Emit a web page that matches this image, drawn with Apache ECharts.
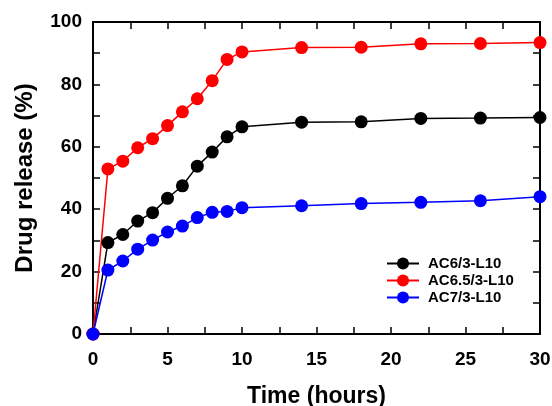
<!DOCTYPE html>
<html>
<head>
<meta charset="utf-8">
<script src="https://cdn.jsdelivr.net/npm/echarts@6/dist/echarts.min.js"></script>
<style>
html,body{margin:0;padding:0;background:#fff;}
#chart{width:552px;height:406px;}
</style>
</head>
<body>
<div id="chart"></div>
<script>
const time = [0, 1, 2, 3, 4, 5, 6, 7, 8, 9, 10, 14, 18, 22, 26, 30];
const ac6 = [0, 29.3, 31.9, 36.2, 38.9, 43.5, 47.5, 53.8, 58.3, 63.2, 66.4, 67.9, 68.0, 69.1, 69.2, 69.4];
const ac65 = [0, 52.9, 55.4, 59.7, 62.6, 66.8, 71.2, 75.4, 81.2, 88.0, 90.4, 91.8, 91.9, 93.0, 93.1, 93.4];
const ac7 = [0, 20.5, 23.4, 27.2, 30.1, 32.7, 34.6, 37.3, 39.0, 39.3, 40.5, 41.1, 41.8, 42.2, 42.7, 44.0];
const seriesNames = ['AC6/3-L10', 'AC6.5/3-L10', 'AC7/3-L10'];
const seriesColors = ['#000000', '#ff0000', '#0000ff'];
const xTicks = [0, 5, 10, 15, 20, 25, 30];
const yTicks = [0, 20, 40, 60, 80, 100];

const FONT = '"Liberation Sans", Arial, sans-serif';
const pairs = arr => time.map((t, i) => [t, arr[i]]);
const datasets = [ac6, ac65, ac7];

const axisLine = () => ({show: true, onZero: false, lineStyle: {color: '#000', width: 2}});
const tick = () => ({show: true, inside: true, length: 7, lineStyle: {color: '#000', width: 1.5}});
const minor = () => ({show: true, splitNumber: 2, length: 7, lineStyle: {color: '#000', width: 1.5}});
const lbl = () => ({fontFamily: FONT, fontWeight: 'bold', fontSize: 19, color: '#000'});

const chart = echarts.init(document.getElementById('chart'));
chart.setOption({
  animation: false,
  backgroundColor: '#fff',
  grid: {left: 93, right: 12, top: 22, bottom: 72, containLabel: false, outerBoundsMode: 'none'},
  legend: {
    orient: 'vertical', left: 386, top: 256, padding: 0,
    itemWidth: 32, itemHeight: 15, itemGap: 2,
    data: seriesNames,
    textStyle: {fontFamily: FONT, fontWeight: 'bold', fontSize: 15, color: '#000', lineHeight: 15, padding: [0, 0, 0, 4]}
  },
  xAxis: [{
    type: 'value', min: xTicks[0], max: xTicks[xTicks.length - 1], interval: xTicks[1] - xTicks[0],
    axisLine: axisLine(), axisTick: tick(), minorTick: minor(), splitLine: {show: false},
    axisLabel: Object.assign({margin: 16}, lbl()),
    name: 'Time (hours)', nameLocation: 'middle', nameGap: 51,
    nameTextStyle: {fontFamily: FONT, fontWeight: 'bold', fontSize: 23, color: '#000'}
  }, {
    type: 'value', position: 'top', min: xTicks[0], max: xTicks[xTicks.length - 1], interval: xTicks[1] - xTicks[0],
    axisLine: axisLine(), axisTick: tick(), minorTick: minor(), splitLine: {show: false}, axisLabel: {show: false}
  }],
  yAxis: [{
    type: 'value', min: yTicks[0], max: yTicks[yTicks.length - 1], interval: yTicks[1] - yTicks[0],
    axisLine: axisLine(), axisTick: tick(), minorTick: minor(), splitLine: {show: false},
    axisLabel: Object.assign({margin: 11}, lbl()),
    name: 'Drug release (%)', nameLocation: 'middle', nameGap: 56,
    nameTextStyle: {fontFamily: FONT, fontWeight: 'bold', fontSize: 24, color: '#000'}
  }, {
    type: 'value', position: 'right', min: yTicks[0], max: yTicks[yTicks.length - 1], interval: yTicks[1] - yTicks[0],
    axisLine: axisLine(), axisTick: tick(), minorTick: minor(), splitLine: {show: false}, axisLabel: {show: false}
  }],
  series: seriesNames.map((name, i) => ({
    name: name, type: 'line', data: pairs(datasets[i]),
    xAxisIndex: 0, yAxisIndex: 0, clip: false,
    symbol: 'circle', symbolSize: 13, showAllSymbol: true,
    itemStyle: {color: seriesColors[i]},
    lineStyle: {color: seriesColors[i], width: 1.5}
  }))
});
</script>
</body>
</html>
